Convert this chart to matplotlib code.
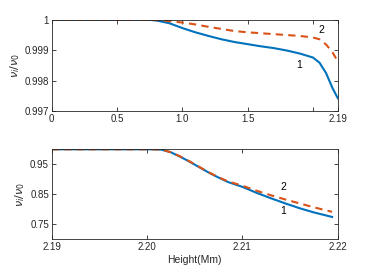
import numpy as np
import matplotlib
matplotlib.use("Agg")
import matplotlib.pyplot as plt

plt.rcParams["font.family"] = ["Liberation Sans", "DejaVu Sans"]
plt.rcParams["mathtext.fontset"] = "dejavusans"

BLUE, ORANGE = "#0072BD", "#D95319"

# upper panel: 0 .. 2.19 Mm
h_top = [0.0, 0.75, 0.8, 0.9, 1.0, 1.1, 1.2, 1.3, 1.4, 1.5, 1.6, 1.7, 1.8,
         1.9, 2.0, 2.05, 2.1, 2.15, 2.19]
nu1_top = [1.0, 1.0, 0.99998, 0.99989, 0.99973, 0.99959, 0.99947, 0.99936,
           0.99927, 0.99920, 0.99913, 0.99907, 0.99899, 0.99889, 0.99876,
           0.99859, 0.99825, 0.99775, 0.99742]
nu2_top = [1.0, 1.0, 0.99999, 0.99996, 0.99991, 0.99985, 0.99977, 0.99970,
           0.99963, 0.99959, 0.99956, 0.99953, 0.99950, 0.99947, 0.99942,
           0.99936, 0.99919, 0.99893, 0.99863]

# lower panel: 2.19 .. 2.22 Mm
h_bot = [2.190, 2.2005, 2.2015, 2.2025, 2.2035, 2.2045, 2.2055, 2.2065,
         2.2075, 2.2085, 2.2100, 2.2115, 2.2130, 2.2145, 2.2160, 2.2175, 2.2194]
nu1_bot = [1.0, 1.0, 0.999, 0.990, 0.975, 0.958, 0.940, 0.922, 0.906, 0.891,
           0.875, 0.855, 0.837, 0.820, 0.804, 0.790, 0.775]
nu2_bot = [1.0, 1.0, 0.999, 0.990, 0.976, 0.959, 0.941, 0.923, 0.907, 0.893,
           0.879, 0.862, 0.847, 0.833, 0.820, 0.807, 0.792]

fig = plt.figure(figsize=(3.73, 2.72), dpi=100)
ax1 = fig.add_axes([0.1386, 0.592, 0.767, 0.335])
ax2 = fig.add_axes([0.1386, 0.1195, 0.767, 0.3316])

for ax in (ax1, ax2):
    for s in ax.spines.values():
        s.set_color("#262626"); s.set_linewidth(0.6)
    ax.tick_params(direction="in", length=3, width=0.6, labelsize=7,
                   colors="#262626", top=True, right=True, pad=2)
    ax.set_ylabel(r"$\nu_i/\nu_0$", fontsize=8, color="#262626", labelpad=2)

ax1.plot(h_top, nu1_top, color=BLUE, lw=1.5)
ax1.plot(h_top, nu2_top, color=ORANGE, lw=1.5, ls=(0, (3.5, 2.5)))
ax1.set_xlim(0, 2.19)
ax1.set_ylim(0.997, 1.0)
ax1.set_xticks([0, 0.5, 1.0, 1.5, 2.0, 2.19])
ax1.set_xticklabels(["0", "0.5", "1.0", "1.5", "", "2.19"])
ax1.set_yticks([0.997, 0.998, 0.999, 1.0])
ax1.set_yticklabels(["0.997", "0.998", "0.999", "1"])
ax1.text(2.067, 0.99967, "2", fontsize=7.5, ha="center", va="center")
ax1.text(1.896, 0.99851, "1", fontsize=7.5, ha="center", va="center")

ax2.plot(h_bot, nu1_bot, color=BLUE, lw=1.5)
ax2.plot(h_bot, nu2_bot, color=ORANGE, lw=1.5, ls=(0, (3.5, 2.5)))
ax2.set_xlim(2.19, 2.22)
ax2.set_ylim(0.70, 1.0)
ax2.set_xticks([2.19, 2.20, 2.21, 2.22])
ax2.set_xticklabels(["2.19", "2.20", "2.21", "2.22"])
ax2.set_yticks([0.75, 0.85, 0.95])
ax2.set_yticklabels(["0.75", "0.85", "0.95"])
ax2.text(2.2143, 0.875, "2", fontsize=7.5, ha="center", va="center")
ax2.text(2.2143, 0.796, "1", fontsize=7.5, ha="center", va="center")
ax2.set_xlabel("Height(Mm)", fontsize=7.5, color="#262626", labelpad=2)

fig.savefig("out.png", dpi=100)
